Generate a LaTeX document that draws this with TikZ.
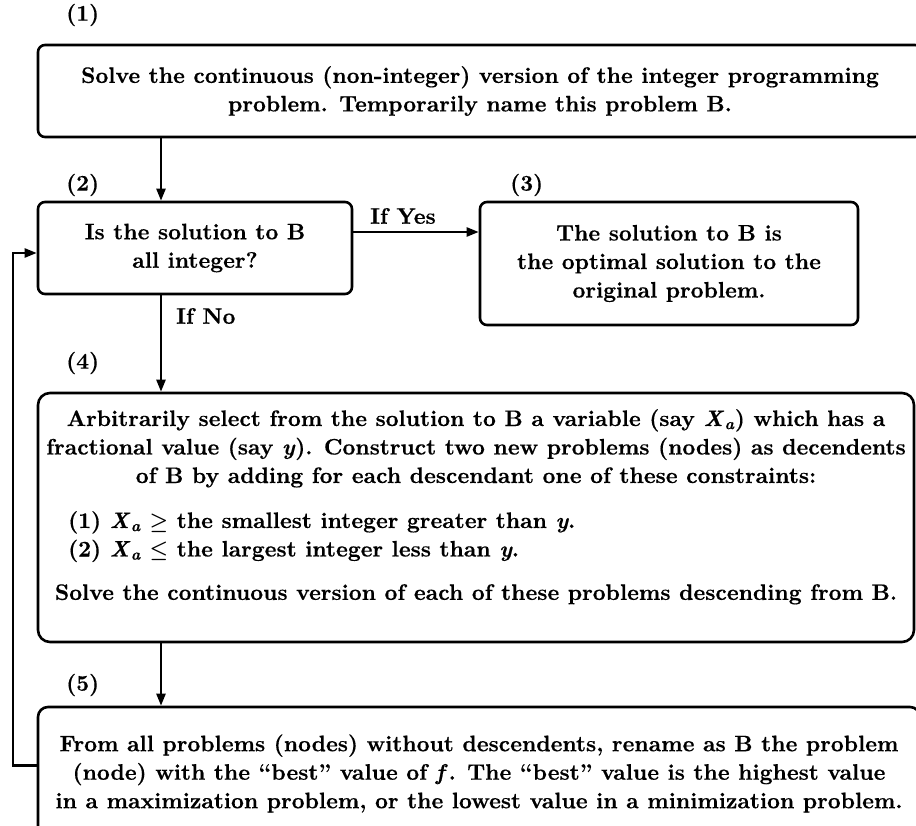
\documentclass[tikz,border=0pt]{standalone}
\usepackage[no-math]{fontspec}
\setmainfont{lmroman10-regular.otf}[
  BoldFont=lmroman10-bold.otf, BoldFeatures={FakeBold=0.4},
  ItalicFont=lmroman10-italic.otf,
  BoldItalicFont=lmroman10-bolditalic.otf, BoldItalicFeatures={FakeBold=0.4},
  Ligatures=TeX]
\usepackage{bm}
\usetikzlibrary{arrows.meta}
% variable names set in bold italic text
\newcommand\varX{\textit{X}\kern0.5pt\textsubscript{\textit{a}}}
\newcommand\vary{\textit{y}}
\newcommand\varf{\textit{f}\kern1pt}
\begin{document}
\begin{tikzpicture}[x=1pt,y=-1pt,
  font=\fontsize{22.4}{28.5}\selectfont\bfseries\boldmath,
  box/.style={draw, line width=2.6pt, rounded corners=7pt, align=center, inner sep=0pt},
  arr/.style={line width=2.3pt, -{Triangle[length=12pt,width=9pt]}},
  tag/.style={anchor=west, inner sep=0pt},
  txt/.style={inner sep=0pt}]
\useasboundingbox (0,0) rectangle (916,826);
\clip (0,0) rectangle (916,826);

% step numbers
\node[tag] (l1) at (66,15)  {(1)};
\node[tag] (l2) at (66,185) {(2)};
\node[tag] (l3) at (510,185) {(3)};
\node[tag] (l4) at (66,363) {(4)};
\node[tag] (l5) at (66,685) {(5)};

% boxes
\node[box, minimum width=884pt, minimum height=92pt] (b1) at (480,91)
  {Solve the continuous (non-integer) version of the integer programming\\
   problem. Temporarily name this problem B.};
\node[box, minimum width=314pt, minimum height=92pt] (b2) at (195,248)
  {Is the solution to B\\ all integer?};
\node[box, minimum width=378pt, minimum height=123pt] (b3) at (669,263.5)
  {The solution to B is\\ the optimal solution to the\\ original problem.};
\node[box, rounded corners=12pt, minimum width=876pt, minimum height=249pt] (b4) at (476,517.5) {};
\node[box, rounded corners=10pt, minimum width=882pt, minimum height=133pt] (b5) at (479,773.5)
  {From all problems (nodes) without descendents, rename as B the problem\\
   (node) with the ``best'' value of \varf. The ``best'' value is the highest value\\
   in a maximization problem, or the lowest value in a minimization problem.};

% contents of box 4
\node[txt, align=center, anchor=north] (t4a) at (b4.north |- 0,409)
  {Arbitrarily select from the solution to B a variable (say \varX) which has a\\
   fractional value (say \vary). Construct two new problems (nodes) as decendents\\
   of B by adding for each descendant one of these constraints:};
\node[txt, align=left, anchor=north west] (t4b) at (68,511)
  {(1) \varX{} $\bm{\geq}$ the smallest integer greater than \vary.\\
   (2) \varX{} $\bm{\leq}$ the largest integer less than \vary.};
\node[txt, anchor=north] (t4c) at (b4.north |- 0,584)
  {Solve the continuous version of each of these problems descending from B.};

% connectors
\coordinate (spine) at (161,0);
\draw[arr] (b1.south -| spine) -- (b2.north -| spine);
\draw[arr] ([yshift=16pt]b2.east) -- ([yshift=16pt]b2.east -| b3.west);
\node[tag] (yes) at (370,216) {If Yes};
\draw[arr] (b2.south -| spine) -- (b4.north -| spine);
\node[tag] (no) at (176,316) {If No};
\draw[arr] (b4.south -| spine) -- (b5.north -| spine);
\draw[arr] ([yshift=8pt]b5.west) -- ++(-24,0) |- ([yshift=-5pt]b2.west);
\end{tikzpicture}
\end{document}
